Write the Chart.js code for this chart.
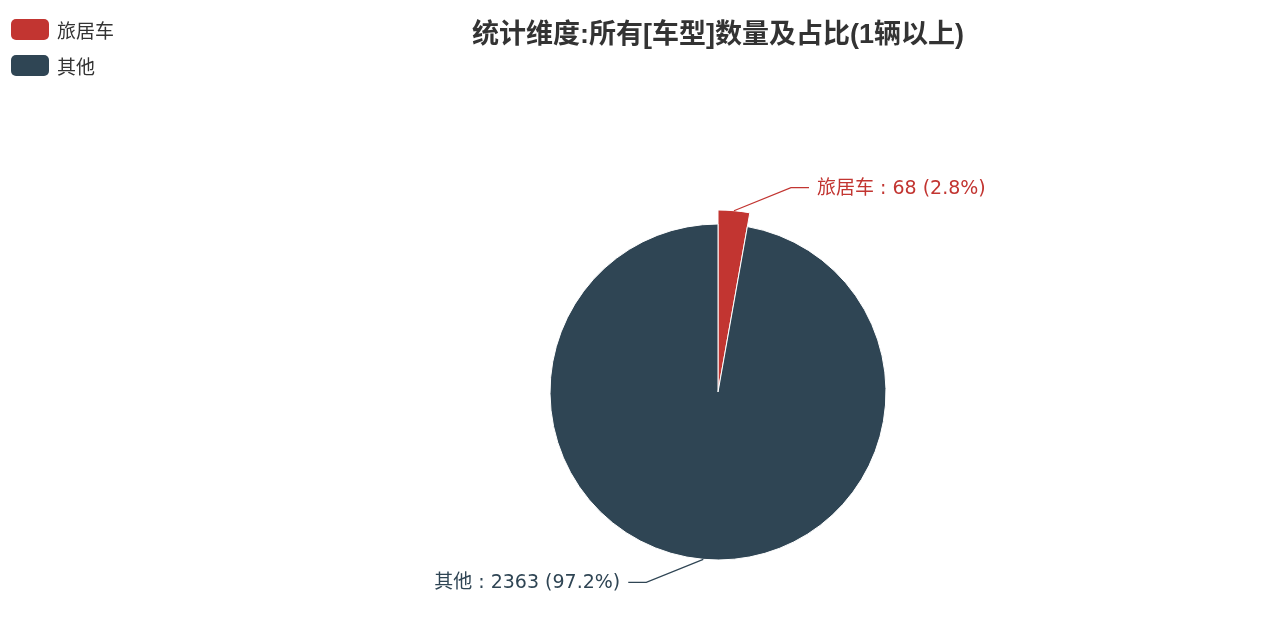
<!DOCTYPE html>
<html>
<head>
<meta charset="utf-8">
<script src="https://cdn.jsdelivr.net/npm/chart.js@4/dist/chart.umd.min.js"></script>
<style>
  html, body { margin: 0; padding: 0; background: #fff; }
  #wrap { position: relative; width: 1268px; height: 626px; }
  #legend { position: absolute; left: 11px; top: 19px; font-family: "DejaVu Sans", "Noto Sans CJK SC", sans-serif; font-size: 19px; color: #333; }
  #legend div { display: flex; align-items: center; height: 21px; margin-bottom: 15px; }
  #legend span.box { display: inline-block; width: 38px; height: 21px; border-radius: 5px; margin-right: 8px; }
</style>
</head>
<body>
<div id="wrap">
  <canvas id="pie" width="1268" height="626"></canvas>
  <div id="legend"></div>
</div>
<script>
// chart data
var categories = ['旅居车', '其他'];
var counts = [68, 2363];
var colors = ['#c23531', '#2f4554'];
var titleText = '统计维度:所有[车型]数量及占比(1辆以上)';

var titleFont = '"Liberation Sans", "Noto Sans CJK SC", sans-serif';
var labelFont = '"DejaVu Sans", "Noto Sans CJK SC", sans-serif';

// legend built from the categories
var legendDiv = document.getElementById('legend');
categories.forEach(function (name, i) {
    var row = document.createElement('div');
    var box = document.createElement('span');
    box.className = 'box';
    box.style.background = colors[i];
    row.appendChild(box);
    row.appendChild(document.createTextNode(name));
    legendDiv.appendChild(row);
});

var total = counts.reduce(function (a, b) { return a + b; }, 0);

// first slice sticks out a bit further
var bigSlice = {
    id: 'bigSlice',
    afterDatasetsUpdate: function (chart) {
        var arc = chart.getDatasetMeta(0).data[0];
        arc.outerRadius = arc.outerRadius + 14;
    }
};

// labels with leader lines, like the original
var pieLabels = {
    id: 'pieLabels',
    afterDatasetsDraw: function (chart) {
        var ctx = chart.ctx;
        chart.getDatasetMeta(0).data.forEach(function (arc, i) {
            var mid = (arc.startAngle + arc.endAngle) / 2;
            var cos = Math.cos(mid), sin = Math.sin(mid);
            var x0 = arc.x + cos * arc.outerRadius;
            var y0 = arc.y + sin * arc.outerRadius;
            var right = cos >= 0 ? 1 : -1;
            var down = sin >= 0 ? 1 : -1;
            var x1 = x0 + right * 57;
            var y1 = y0 + down * 23;
            var x2 = x1 + right * 18;
            var pct = (counts[i] / total * 100).toFixed(1);
            var text = categories[i] + ' : ' + counts[i] + ' (' + pct + '%)';
            ctx.save();
            ctx.strokeStyle = colors[i];
            ctx.lineWidth = 1.2;
            ctx.beginPath();
            ctx.moveTo(x0, y0);
            ctx.lineTo(x1, y1);
            ctx.lineTo(x2, y1);
            ctx.stroke();
            ctx.fillStyle = colors[i];
            ctx.font = '19px ' + labelFont;
            ctx.textBaseline = 'middle';
            ctx.textAlign = right > 0 ? 'left' : 'right';
            ctx.fillText(text, x2 + right * 8, y1 + 1);
            ctx.restore();
        });
    }
};

new Chart(document.getElementById('pie'), {
    type: 'pie',
    data: {
        labels: categories,
        datasets: [{
            data: counts,
            backgroundColor: colors,
            borderColor: '#fff',
            borderWidth: 1,
            radius: 168
        }]
    },
    options: {
        responsive: false,
        animation: false,
        layout: { padding: { left: 168, top: 0, right: 0, bottom: 0 } },
        plugins: {
            legend: { display: false },
            tooltip: { enabled: false },
            title: {
                display: true,
                text: titleText,
                color: '#333',
                font: { family: titleFont, size: 27, weight: 'bold' },
                padding: { top: 19, bottom: 106.6 }
            }
        }
    },
    plugins: [bigSlice, pieLabels]
});
</script>
</body>
</html>
